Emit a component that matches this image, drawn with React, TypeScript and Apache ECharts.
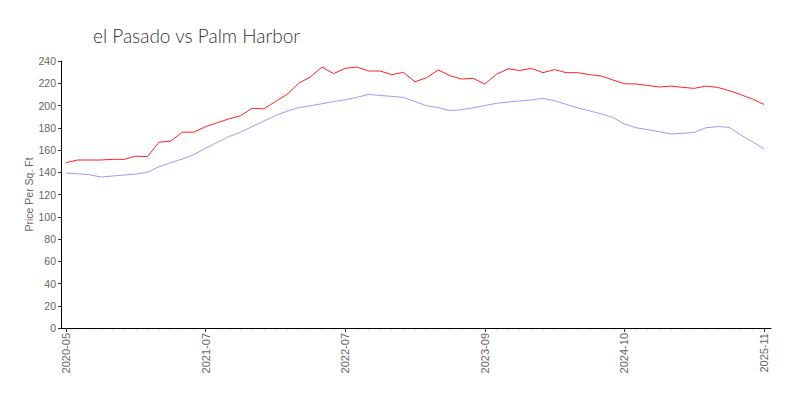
import React, { useEffect, useRef } from "react";
import * as echarts from "echarts";

const months: string[] = [
  "2020-05", "2020-06", "2020-07", "2020-08", "2020-09", "2020-10", "2020-12", "2021-01", "2021-02", "2021-03", "2021-04", "2021-06",
  "2021-07", "2021-08", "2021-09", "2021-10", "2021-11", "2021-12", "2022-01", "2022-02", "2022-03", "2022-04", "2022-05", "2022-06",
  "2022-07", "2022-08", "2022-09", "2022-10", "2022-11", "2022-12", "2023-01", "2023-02", "2023-04", "2023-05", "2023-06", "2023-08",
  "2023-09", "2023-10", "2023-11", "2023-12", "2024-01", "2024-02", "2024-03", "2024-04", "2024-05", "2024-06", "2024-07", "2024-09",
  "2024-10", "2024-11", "2024-12", "2025-01", "2025-02", "2025-03", "2025-04", "2025-05", "2025-06", "2025-07", "2025-08", "2025-10",
  "2025-11",
];

const elPasado: number[] = [
  148.6, 151, 151, 151, 151.6, 151.6, 154.5, 154, 167, 168, 176, 176,
  181, 184.5, 188, 190.8, 197.5, 197, 203.5, 210, 220, 225.6, 234.6, 228.6,
  233.4, 234.6, 231, 231, 227.7, 229.8, 221.4, 225, 232, 226.8, 223.8, 224.4,
  219.3, 228, 233, 231.5, 233.4, 229.5, 232.3, 229.5, 229.5, 227.7, 226.5, 223,
  219.6, 219.3, 218, 216.6, 217.5, 216.3, 215.4, 217.5, 216.3, 213.3, 209.8, 205.8,
  201,
];

const palmHarbor: number[] = [
  139.3, 138.7, 137.8, 135.7, 136.6, 137.5, 138.4, 140, 145, 148.6, 151.9, 156,
  161.5, 166.9, 172, 176, 181, 186, 190.8, 195, 198, 199.8, 201.6, 203.5,
  205.2, 207.3, 210, 209, 208.2, 207.3, 203.5, 199.8, 198, 195.5, 196.2, 198,
  200, 201.9, 203.1, 204, 205, 206.4, 204.3, 201, 197.8, 195.2, 192.5, 189.3,
  183.4, 180, 178.3, 176.5, 174.4, 175, 175.8, 180, 181, 180.4, 173.5, 167.5,
  161,
];

const seriesNames = ["el Pasado", "Palm Harbor"];
const titleText = "el Pasado vs Palm Harbor";
const yAxisName = "Price Per Sq. Ft";

const labelFont = "'Liberation Sans Narrow', 'Liberation Sans', sans-serif";

export default function App() {
  const ref = useRef<HTMLDivElement>(null);
  useEffect(() => {
    if (!ref.current) return;
    const chart = echarts.init(ref.current, undefined, { renderer: "svg" });
    chart.setOption({
      animation: false,
      backgroundColor: "#ffffff",
      title: {
        text: titleText,
        left: 88,
        top: 21,
        textStyle: {
          fontFamily: "Lato, 'Open Sans', sans-serif",
          fontWeight: 300,
          fontSize: 19,
          color: "#333",
        },
      },
      grid: [
        { left: 61, right: 29, top: 61, bottom: 72 },
        { left: 66, right: 36, top: 61, bottom: 72 },
      ],
      xAxis: [
        {
          gridIndex: 0,
          type: "value",
          min: 0,
          max: 1,
          position: "bottom",
          z: 20,
          axisLine: { show: true, lineStyle: { color: "#000", width: 1 } },
          axisTick: { show: false },
          axisLabel: { show: false },
          splitLine: { show: false },
        },
        {
          gridIndex: 1,
          type: "category",
          data: months,
          boundaryGap: false,
          position: "bottom",
          z: 1,
          axisLine: { show: false },
          axisTick: { show: true, interval: 0, length: 3, lineStyle: { color: "#ddd", width: 1 } },
          axisLabel: { show: false },
          splitLine: { show: false },
        },
        {
          gridIndex: 1,
          type: "category",
          data: months,
          boundaryGap: false,
          position: "bottom",
          z: 25,
          axisLine: { show: false },
          axisTick: { show: true, interval: 11, length: 4, lineStyle: { color: "#333", width: 1 } },
          axisLabel: {
            show: true,
            interval: 11,
            rotate: 90,
            margin: 5,
            fontSize: 11,
            fontFamily: labelFont,
            color: "#666",
          },
          splitLine: { show: false },
        },
      ],
      yAxis: [
        {
          gridIndex: 0,
          type: "value",
          min: 0,
          max: 240,
          interval: 20,
          name: yAxisName,
          nameLocation: "middle",
          nameGap: 27,
          nameMoveOverlap: false,
          nameTextStyle: { fontSize: 10.5, fontFamily: labelFont, color: "#666" },
          axisLine: { show: true, lineStyle: { color: "#000", width: 1 } },
          axisTick: { show: true, length: 3, lineStyle: { color: "#333" } },
          axisLabel: { margin: 5, fontSize: 10.5, fontFamily: labelFont, color: "#666" },
          splitLine: { show: false },
        },
        {
          gridIndex: 1,
          type: "value",
          min: 0,
          max: 240,
          interval: 20,
          show: false,
          splitLine: { show: false },
        },
      ],
      series: [
        {
          name: seriesNames[0],
          type: "line",
          xAxisIndex: 2,
          yAxisIndex: 1,
          data: elPasado,
          showSymbol: false,
          symbol: "none",
          lineStyle: { color: "#ff2020", width: 1 },
          itemStyle: { color: "#ff2020" },
        },
        {
          name: seriesNames[1],
          type: "line",
          xAxisIndex: 2,
          yAxisIndex: 1,
          data: palmHarbor,
          showSymbol: false,
          symbol: "none",
          lineStyle: { color: "#9a9aff", width: 1 },
          itemStyle: { color: "#9a9aff" },
        },
      ],
    });
    return () => chart.dispose();
  }, []);
  return <div ref={ref} style={{ width: 800, height: 400, position: "absolute", left: 0, top: 0 }} />;
}
